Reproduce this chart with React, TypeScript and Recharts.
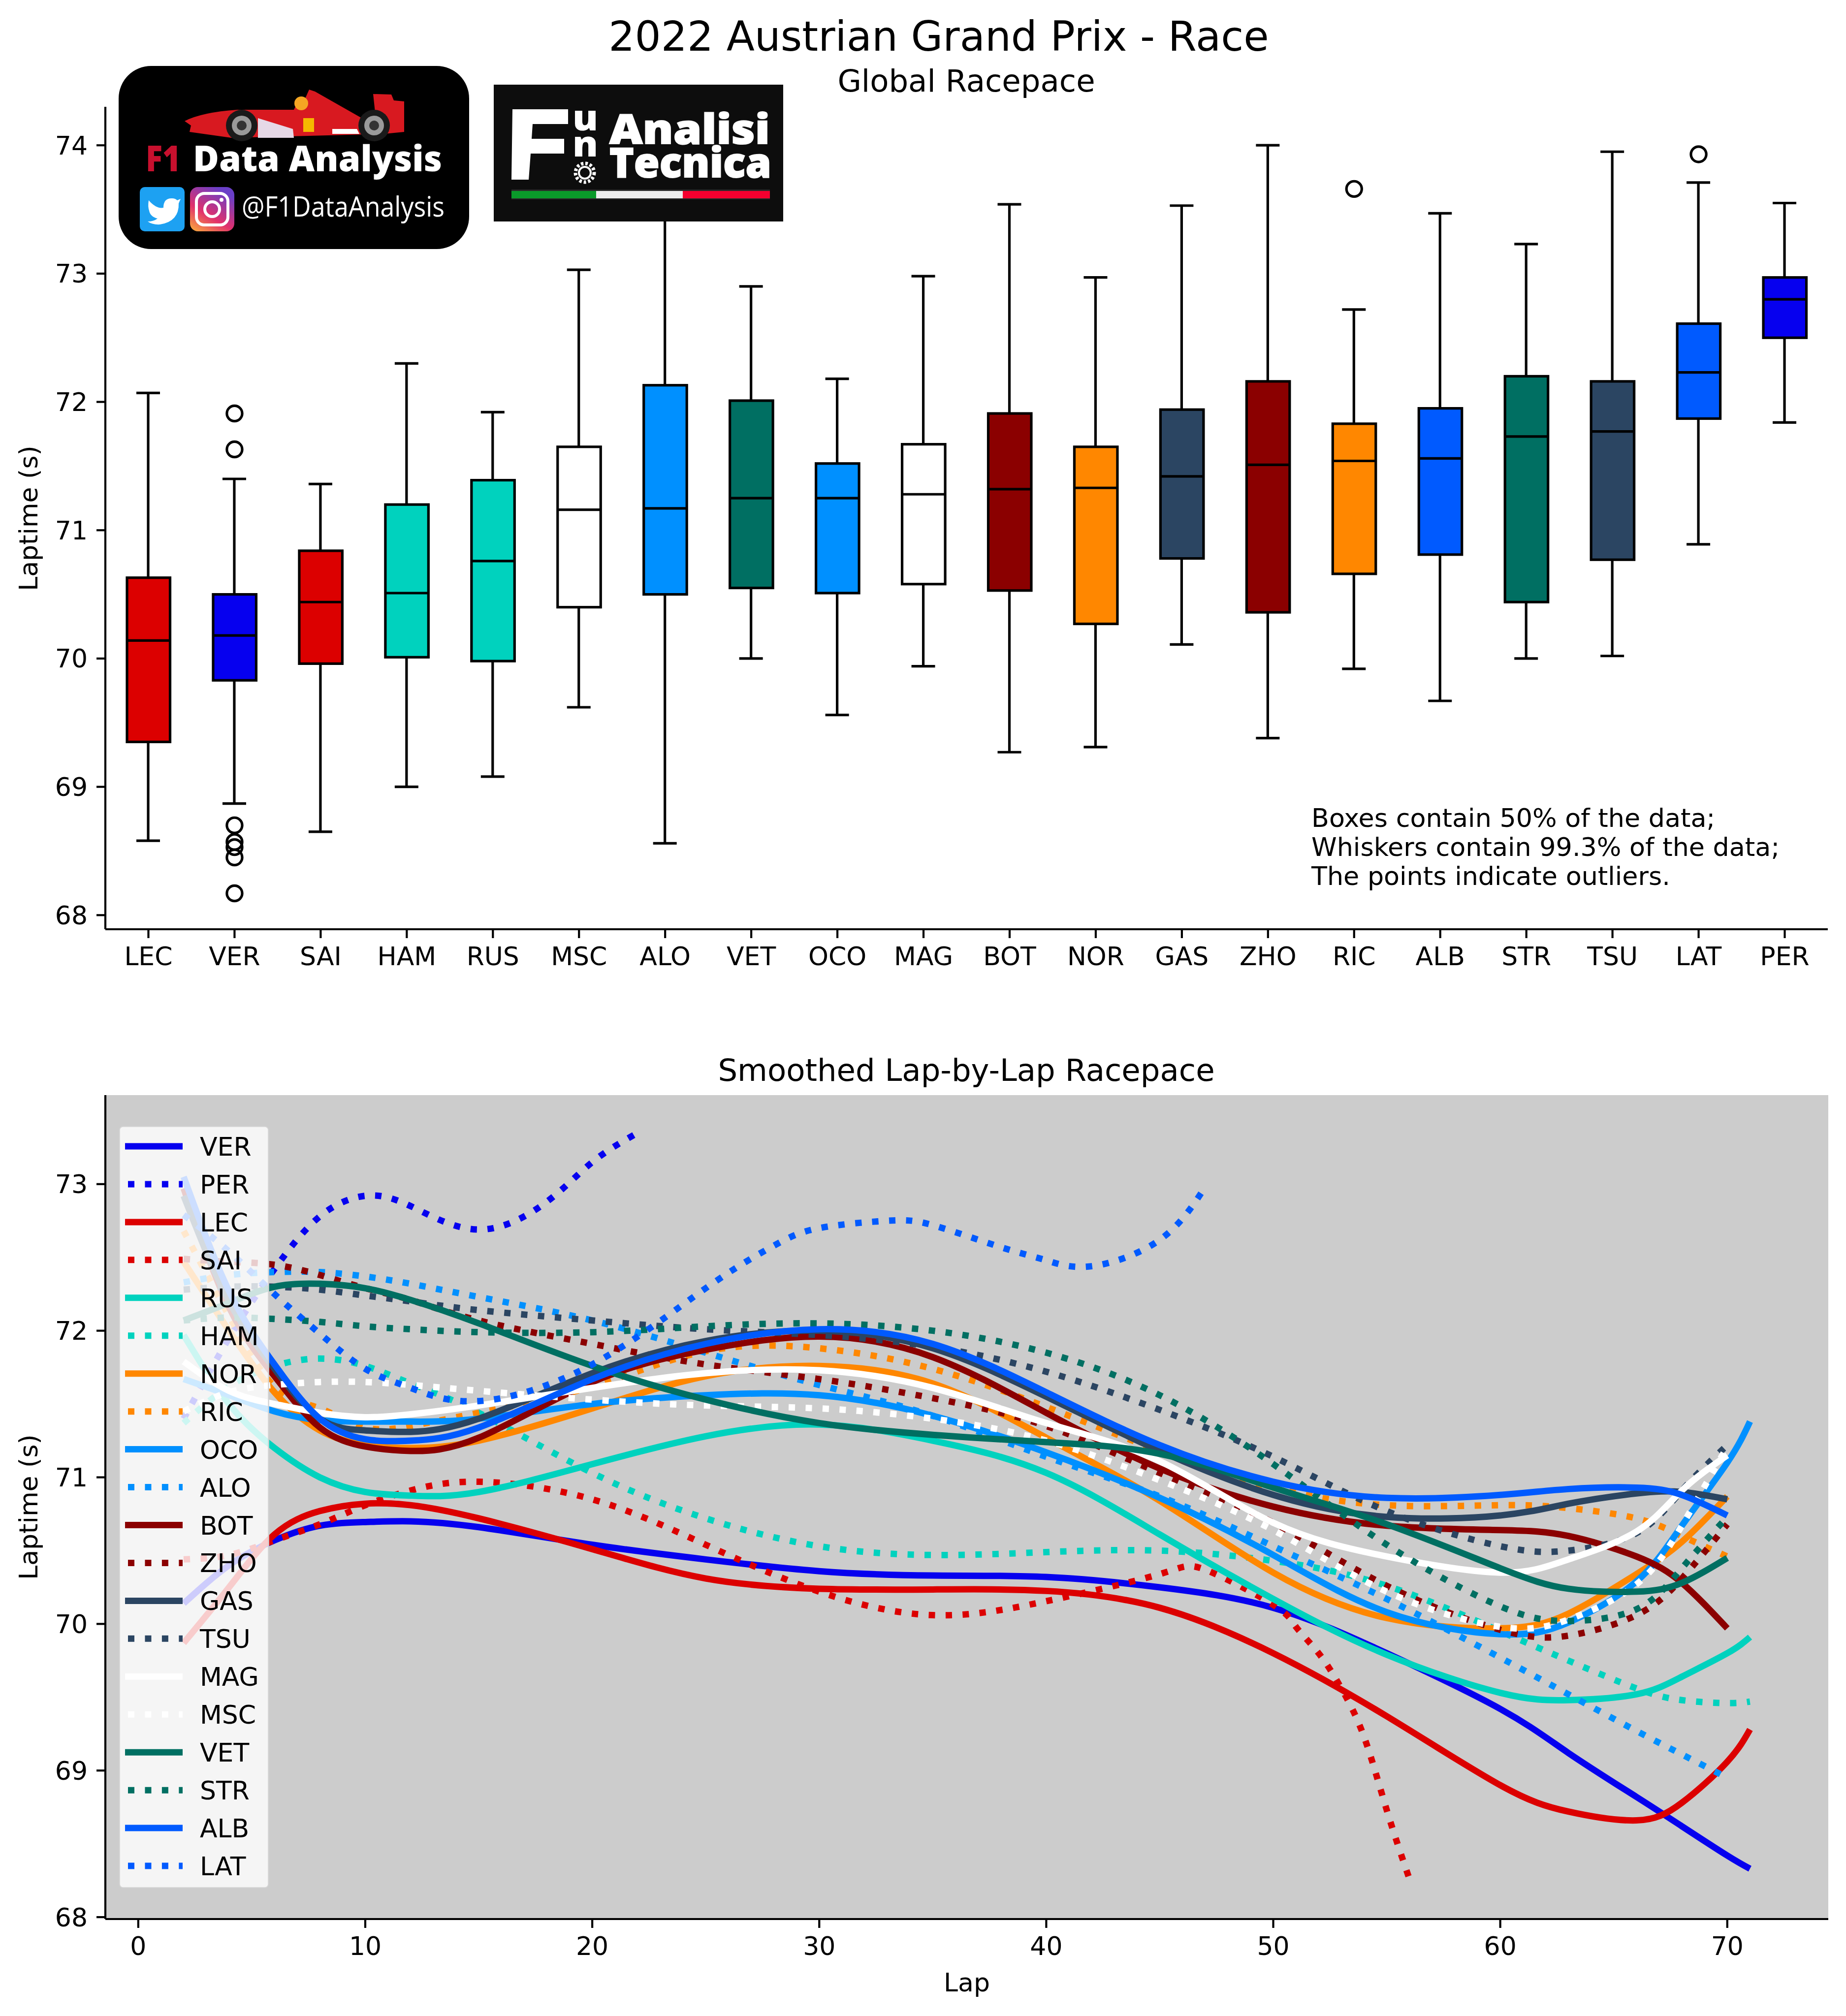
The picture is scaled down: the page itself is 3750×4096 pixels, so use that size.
import React from 'react';
import { ComposedChart, Bar, Line, XAxis, YAxis, CartesianGrid, Legend } from 'recharts';

const FONT = 'DejaVu Sans';

// ---------- upper panel: box plot ----------
const BOX_DRIVERS = ['LEC','VER','SAI','HAM','RUS','MSC','ALO','VET','OCO','MAG','BOT','NOR','GAS','ZHO','RIC','ALB','STR','TSU','LAT','PER'];
const BOX_COLORS = ['#dc0000','#0600ef','#dc0000','#00d2be','#00d2be','#ffffff','#0090ff','#006f62','#0090ff','#ffffff','#8b0000','#ff8700','#2b4562','#8b0000','#ff8700','#005aff','#006f62','#2b4562','#005aff','#0600ef'];
const WHISK_LOW = [68.58,68.87,68.65,69.00,69.08,69.62,68.56,70.00,69.56,69.94,69.27,69.31,70.11,69.38,69.92,69.67,70.00,70.02,70.89,71.84];
const Q1 = [69.35,69.83,69.96,70.01,69.98,70.40,70.50,70.55,70.51,70.58,70.53,70.27,70.78,70.36,70.66,70.81,70.44,70.77,71.87,72.50];
const MEDIAN = [70.14,70.18,70.44,70.51,70.76,71.16,71.17,71.25,71.25,71.28,71.32,71.33,71.42,71.51,71.54,71.56,71.73,71.77,72.23,72.80];
const Q3 = [70.63,70.50,70.84,71.20,71.39,71.65,72.13,72.01,71.52,71.67,71.91,71.65,71.94,72.16,71.83,71.95,72.20,72.16,72.61,72.97];
const WHISK_HIGH = [72.07,71.40,71.36,72.30,71.92,73.03,73.70,72.90,72.18,72.98,73.54,72.97,73.53,74.00,72.72,73.47,73.23,73.95,73.71,73.55];
const OUTLIERS: Record<string, number[]> = {
  VER: [71.91,71.63,68.70,68.57,68.53,68.45,68.17],
  RIC: [73.66],
  LAT: [73.93],
};
const OUTLIER_KEYS = [0,1,2,3,4,5,6];
const BOX_TICKS = [68,69,70,71,72,73,74];

const boxRows = BOX_DRIVERS.map((driver, i) => {
  const row: any = {
    driver,
    whisk: [WHISK_LOW[i], WHISK_HIGH[i]],
    box: [Q1[i], Q3[i]],
    median: MEDIAN[i],
  };
  OUTLIER_KEYS.forEach((k) => {
    const o = OUTLIERS[driver];
    row['o' + k] = o && o[k] !== undefined ? o[k] : null;
  });
  return row;
});

// ---------- lower panel: smoothed lap-by-lap lines ----------
const LAPS = [2,4,6,8,10,12,15,20,25,30,35,40,45,50,55,60,63,66,68,70,71];
const LAPS_PER = [2,4,6,8,10,12,15,18,20,22];
const LAPS_SAI = [2,4,6,8,10,12,15,20,25,30,35,40,45,47,50,51,52,53,54,55,56];
const LAPS_LAT = [2,4,6,8,10,12,15,20,25,28,30,33,35,38,40,42,45,47];

const VER = [70.14,70.40,70.57,70.67,70.695,70.70,70.66,70.54,70.44,70.36,70.33,70.32,70.25,70.11,69.80,69.42,69.12,68.82,68.62,68.42,68.33];
const PER = [71.40,71.95,72.42,72.78,72.92,72.85,72.69,72.88,73.15,73.35];
const LEC = [69.87,70.25,70.61,70.77,70.82,70.81,70.72,70.51,70.31,70.24,70.235,70.225,70.11,69.80,69.37,68.90,68.72,68.66,68.78,69.06,69.28];
const SAI = [70.44,70.47,70.57,70.68,70.81,70.91,70.97,70.85,70.54,70.22,70.06,70.155,70.34,70.37,70.13,69.98,69.80,69.56,69.23,68.73,68.26];
const RUS = [71.97,71.50,71.20,71.00,70.90,70.875,70.90,71.09,71.28,71.36,71.25,71.03,70.61,70.17,69.79,69.53,69.48,69.52,69.64,69.80,69.91];
const HAM = [71.37,71.62,71.76,71.81,71.76,71.64,71.44,71.03,70.72,70.53,70.47,70.49,70.50,70.43,70.26,69.95,69.75,69.56,69.48,69.46,69.47];
const NOR = [72.47,72.00,71.58,71.32,71.22,71.20,71.25,71.47,71.69,71.76,71.64,71.27,70.84,70.35,70.04,69.97,70.07,70.34,70.56,70.87];
const RIC = [72.68,72.10,71.62,71.47,71.34,71.35,71.44,71.62,71.86,71.88,71.74,71.48,71.18,70.93,70.81,70.81,70.79,70.72,70.60,70.46];
const OCO = [71.67,71.56,71.45,71.39,71.38,71.38,71.40,71.50,71.56,71.56,71.42,71.17,70.86,70.47,70.08,69.93,70.01,70.29,70.67,71.10,71.38];
const ALO = [72.33,72.38,72.40,72.40,72.37,72.32,72.23,72.07,71.85,71.63,71.42,71.14,70.87,70.53,70.17,69.77,69.52,69.27,69.11,68.95];
const BOT = [72.97,72.16,71.69,71.34,71.21,71.18,71.27,71.65,71.87,71.96,71.82,71.44,71.06,70.80,70.67,70.64,70.60,70.46,70.28,69.97];
const ZHO = [72.49,72.47,72.45,72.38,72.29,72.21,72.07,71.91,71.77,71.67,71.54,71.35,71.03,70.69,70.26,69.96,69.92,70.06,70.31,70.68];
const GAS = [72.92,72.20,71.74,71.40,71.32,71.31,71.40,71.71,71.93,72.00,71.88,71.55,71.18,70.88,70.73,70.74,70.82,70.89,70.90,70.85];
const TSU = [72.28,72.30,72.30,72.28,72.24,72.20,72.14,72.07,72.01,71.97,71.89,71.72,71.46,71.14,70.77,70.53,70.50,70.62,70.91,71.22];
const MAG = [71.79,71.59,71.50,71.44,71.41,71.43,71.49,71.61,71.71,71.73,71.61,71.37,71.11,70.69,70.46,70.35,70.44,70.63,70.91,71.15];
const MSC = [71.45,71.58,71.63,71.65,71.65,71.63,71.59,71.53,71.49,71.47,71.40,71.25,70.98,70.64,70.22,69.98,70.03,70.27,70.67,71.21];
const VET = [72.07,72.19,72.30,72.32,72.29,72.21,72.05,71.76,71.53,71.37,71.29,71.24,71.16,70.93,70.68,70.38,70.24,70.22,70.28,70.45];
const STR = [72.07,72.09,72.08,72.06,72.03,72.01,71.99,71.99,72.03,72.05,72.00,71.85,71.56,71.09,70.54,70.12,70.02,70.10,70.38,70.73];
const ALB = [73.05,72.27,71.77,71.40,71.26,71.25,71.34,71.67,71.91,72.01,71.91,71.58,71.22,70.97,70.86,70.88,70.92,70.93,70.88,70.74];
const LAT = [72.79,72.54,72.25,71.98,71.74,71.61,71.52,71.77,72.29,72.58,72.70,72.75,72.72,72.57,72.48,72.44,72.62,72.98];

const SERIES: { name: string; color: string; dotted: boolean; laps: number[]; values: number[] }[] = [
  { name: 'VER', color: '#0600ef', dotted: false, laps: LAPS, values: VER },
  { name: 'PER', color: '#0600ef', dotted: true, laps: LAPS_PER, values: PER },
  { name: 'LEC', color: '#dc0000', dotted: false, laps: LAPS, values: LEC },
  { name: 'SAI', color: '#dc0000', dotted: true, laps: LAPS_SAI, values: SAI },
  { name: 'RUS', color: '#00d2be', dotted: false, laps: LAPS, values: RUS },
  { name: 'HAM', color: '#00d2be', dotted: true, laps: LAPS, values: HAM },
  { name: 'NOR', color: '#ff8700', dotted: false, laps: LAPS, values: NOR },
  { name: 'RIC', color: '#ff8700', dotted: true, laps: LAPS, values: RIC },
  { name: 'OCO', color: '#0090ff', dotted: false, laps: LAPS, values: OCO },
  { name: 'ALO', color: '#0090ff', dotted: true, laps: LAPS, values: ALO },
  { name: 'BOT', color: '#8b0000', dotted: false, laps: LAPS, values: BOT },
  { name: 'ZHO', color: '#8b0000', dotted: true, laps: LAPS, values: ZHO },
  { name: 'GAS', color: '#2b4562', dotted: false, laps: LAPS, values: GAS },
  { name: 'TSU', color: '#2b4562', dotted: true, laps: LAPS, values: TSU },
  { name: 'MAG', color: '#ffffff', dotted: false, laps: LAPS, values: MAG },
  { name: 'MSC', color: '#ffffff', dotted: true, laps: LAPS, values: MSC },
  { name: 'VET', color: '#006f62', dotted: false, laps: LAPS, values: VET },
  { name: 'STR', color: '#006f62', dotted: true, laps: LAPS, values: STR },
  { name: 'ALB', color: '#005aff', dotted: false, laps: LAPS, values: ALB },
  { name: 'LAT', color: '#005aff', dotted: true, laps: LAPS_LAT, values: LAT },
];
const LAP_TICKS = [0,10,20,30,40,50,60,70];
const LINE_TICKS = [68,69,70,71,72,73];

const EDGE = 5.2;
const SPINE = 4.2;
const axisLine = { stroke: '#000', strokeWidth: SPINE };
const tickLine = { stroke: '#000', strokeWidth: SPINE };
const tickStyle = { fontSize: 52, fill: '#000', fontFamily: FONT };
const DOT_DASH = '13 21.45';

function WhiskerShape(p: any) {
  const { x, y, width, height } = p;
  const cx = x + width / 2;
  return (
    <g stroke="#000" strokeWidth={EDGE} fill="none">
      <line x1={cx} x2={cx} y1={y} y2={y + height} />
      <line x1={x} x2={x + width} y1={y} y2={y} />
      <line x1={x} x2={x + width} y1={y + height} y2={y + height} />
    </g>
  );
}
function BoxShape(p: any) {
  const { x, y, width, height, index } = p;
  return <rect x={x} y={y} width={width} height={height} fill={BOX_COLORS[index]} stroke="#000" strokeWidth={EDGE} />;
}
function MedianDot(p: any) {
  const { cx, cy, index } = p;
  return <line key={index} x1={cx - 43.75} x2={cx + 43.75} y1={cy} y2={cy} stroke="#000" strokeWidth={EDGE} />;
}
function FlierDot(p: any) {
  const { cx, cy, index, value } = p;
  if (value === null || value === undefined || cy === null || cy === undefined) return <g key={index} />;
  return <circle key={index} cx={cx} cy={cy} r={15.6} fill="none" stroke="#000" strokeWidth={EDGE} />;
}

function LegendBox(props: any) {
  const items = props.payload || [];
  return (
    <svg width={306} height={1550} style={{ display: 'block' }}>
      <rect x={1} y={1} width={304} height={1548} rx={8} fill="rgba(255,255,255,0.8)" stroke="rgba(204,204,204,0.8)" strokeWidth={3.5} />
      {items.map((it: any, i: number) => {
        const s = SERIES.find((d) => d.name === it.value);
        const y = 42 + i * 76.95;
        return (
          <g key={it.value}>
            <line x1={13} x2={130} y1={y} y2={y} stroke={it.color} strokeWidth={13}
              strokeDasharray={s && s.dotted ? DOT_DASH : undefined} strokeDashoffset={s && s.dotted ? -6 : 0} />
            <text x={165} y={y + 19} fontSize={52} fontFamily={FONT} fill="#000">{it.value}</text>
          </g>
        );
      })}
    </svg>
  );
}

function Logos() {
  return (
    <g>
      {/* first badge */}
      <rect x={235} y={129} width={724} height={382} rx={70} fill="#fff" />
      <rect x={241} y={134} width={712} height={372} rx={66} fill="#000" />
      <path d="M375 246 Q410 228 482 223 L597 223 Q605 205 620 200 L628 182 L640 186 L735 240 L762 228 L758 191 L795 192 L800 204 L821 206 L821 268 L780 272 L470 280 L385 268 L388 255 Z" fill="#d81920" />
      <path d="M524 240 L595 262 L597 280 L524 280 Z" fill="#e6d8e6" />
      <path d="M675 262 L725 262 L730 272 L675 272 Z" fill="#fff" />
      <rect x={616} y={240} width={22} height={28} fill="#f5b800" />
      <circle cx={612} cy={210} r={14} fill="#f5a623" />
      <circle cx={491} cy={255} r={32} fill="#1a1a1a" />
      <circle cx={491} cy={255} r={20} fill="#9a9a9a" />
      <circle cx={491} cy={255} r={10} fill="#333" />
      <circle cx={760} cy={255} r={32} fill="#1a1a1a" />
      <circle cx={760} cy={255} r={20} fill="#9a9a9a" />
      <circle cx={760} cy={255} r={10} fill="#333" />
      <text x={296} y={348} fontFamily="Open Sans" fontWeight={800} fontSize={72} fill="#c8102e" textLength={71} lengthAdjust="spacingAndGlyphs">F1</text>
      <text x={392} y={348} fontFamily="Open Sans" fontWeight={800} fontSize={72} fill="#fff" textLength={506} lengthAdjust="spacingAndGlyphs">Data Analysis</text>
      <rect x={284} y={380} width={91} height={90} rx={10} fill="#1da1f2" />
      <path d="M302 407 Q318 425 332 422 Q332 402 350 403 Q356 403 360 407 L367 404 L363 413 Q364 450 325 456 Q310 457 300 450 Q312 450 320 444 Q305 440 303 428 Q300 420 302 407 Z" fill="#fff" />
      <defs>
        <linearGradient id="ig" x1="0" y1="1" x2="0.6" y2="0">
          <stop offset="0" stopColor="#fbb03b" />
          <stop offset="0.45" stopColor="#e1306c" />
          <stop offset="1" stopColor="#6a3fc8" />
        </linearGradient>
      </defs>
      <rect x={386} y={380} width={90} height={90} rx={16} fill="url(#ig)" />
      <rect x={399} y={393} width={64} height={64} rx={16} fill="none" stroke="#fff" strokeWidth={6} />
      <circle cx={431} cy={425} r={15} fill="none" stroke="#fff" strokeWidth={6} />
      <circle cx={450} cy={406} r={4} fill="#fff" />
      <text x={491} y={440} fontFamily="Open Sans" fontSize={56} fill="#fff" textLength={412} lengthAdjust="spacingAndGlyphs">@F1DataAnalysis</text>

      {/* second badge */}
      <rect x={1003} y={172} width={588} height={278} fill="#0d0d0d" />
      <path d="M1041 222 L1154 222 L1154 252 L1082 252 L1080 282 L1146 282 L1146 312 L1078 312 L1074 365 L1039 365 Z" fill="#fff" />
      <text x={1163} y={265} fontFamily="Open Sans" fontWeight={800} fontSize={72} fill="#fff" textLength={52} lengthAdjust="spacingAndGlyphs">u</text>
      <text x={1163} y={318} fontFamily="Open Sans" fontWeight={800} fontSize={72} fill="#fff" textLength={52} lengthAdjust="spacingAndGlyphs">n</text>
      <circle cx={1188} cy={351} r={19} fill="none" stroke="#fff" strokeWidth={7} strokeDasharray="5 4" />
      <circle cx={1188} cy={351} r={12} fill="none" stroke="#fff" strokeWidth={4} />
      <text x={1238} y={292} fontFamily="Open Sans" fontWeight={800} fontSize={84} fill="#fff" stroke="#fff" strokeWidth={2} textLength={326} lengthAdjust="spacingAndGlyphs">Analisi</text>
      <text x={1238} y={360} fontFamily="Open Sans" fontWeight={800} fontSize={84} fill="#fff" stroke="#fff" strokeWidth={2} textLength={329} lengthAdjust="spacingAndGlyphs">Tecnica</text>
      <rect x={1039} y={385} width={525} height={20} fill="#2a2a2a" />
      <rect x={1039} y={388} width={172} height={15} fill="#0a9a2a" />
      <rect x={1211} y={388} width={176} height={15} fill="#ececec" />
      <rect x={1387} y={388} width={177} height={15} fill="#f5002f" />
    </g>
  );
}

export default function App() {
  return (
    <div style={{ position: 'absolute', left: 0, top: 0, width: 3750, height: 4096, background: '#fff', overflow: 'hidden' }}>
      <div style={{ position: 'absolute', left: -1, top: 0 }}>
        <ComposedChart width={3750} height={2000} data={boxRows} margin={{ top: 217, right: 36, left: 0, bottom: 82 }} barGap={0}>
          <XAxis dataKey="driver" type="category" interval={0} tick={tickStyle} tickSize={18} tickMargin={18} axisLine={axisLine} tickLine={tickLine} />
          <XAxis xAxisId="w" dataKey="driver" type="category" hide />
          <XAxis xAxisId="b" dataKey="driver" type="category" hide />
          <YAxis width={215} type="number" domain={[67.89, 74.3]} ticks={BOX_TICKS} allowDataOverflow tick={tickStyle} tickSize={18} tickMargin={18} axisLine={axisLine} tickLine={tickLine} />
          <Bar xAxisId="w" dataKey="whisk" barSize={48} shape={WhiskerShape} isAnimationActive={false} />
          <Bar xAxisId="b" dataKey="box" barSize={87.5} shape={BoxShape} isAnimationActive={false} />
          <Line dataKey="median" stroke="none" dot={MedianDot} activeDot={false} isAnimationActive={false} />
          {OUTLIER_KEYS.map((k) => (
            <Line key={k} dataKey={'o' + k} stroke="none" dot={FlierDot} activeDot={false} isAnimationActive={false} />
          ))}
        </ComposedChart>
      </div>

      <div style={{ position: 'absolute', left: 0, top: 2000 }}>
        <ComposedChart width={3750} height={2096} margin={{ top: 225, right: 36, left: 0, bottom: 167 }}>
          <CartesianGrid horizontal={false} vertical={false} fill="#cccccc" />
          <XAxis dataKey="lap" type="number" domain={[-1.45, 74.45]} ticks={LAP_TICKS} allowDataOverflow tick={tickStyle} tickSize={18} tickMargin={18} axisLine={axisLine} tickLine={tickLine} />
          <YAxis width={214} type="number" domain={[67.987, 73.607]} ticks={LINE_TICKS} allowDataOverflow tick={tickStyle} tickSize={18} tickMargin={18} axisLine={axisLine} tickLine={tickLine} />
          {SERIES.map((s) => (
            <Line
              key={s.name}
              name={s.name}
              type="natural"
              data={s.laps.map((lap, i) => ({ lap, value: s.values[i] }))}
              dataKey="value"
              stroke={s.color}
              strokeWidth={13}
              strokeDasharray={s.dotted ? DOT_DASH : undefined}
              dot={false}
              activeDot={false}
              isAnimationActive={false}
            />
          ))}
          <Legend
            layout="vertical"
            align="center"
            verticalAlign="middle"
            itemSorter={null as any}
            wrapperStyle={{ left: 241, top: 287, width: 306, height: 1550, right: 'auto', bottom: 'auto', margin: 0 }}
            content={LegendBox as any}
          />
        </ComposedChart>
      </div>

      <svg width={3750} height={4096} style={{ position: 'absolute', left: 0, top: 0, pointerEvents: 'none' }}>
        <text x={1907} y={103} textAnchor="middle" fontFamily={FONT} fontSize={83.6} fill="#000">2022 Austrian Grand Prix - Race</text>
        <text x={1963} y={186} textAnchor="middle" fontFamily={FONT} fontSize={62.5} fill="#000">Global Racepace</text>
        <text x={1963} y={2196} textAnchor="middle" fontFamily={FONT} fontSize={62.5} fill="#000">Smoothed Lap-by-Lap Racepace</text>
        <text x={1964} y={4046} textAnchor="middle" fontFamily={FONT} fontSize={52} fill="#000">Lap</text>
        <text transform="translate(76,1053) rotate(-90)" textAnchor="middle" fontFamily={FONT} fontSize={52} fill="#000">Laptime (s)</text>
        <text transform="translate(76,3062) rotate(-90)" textAnchor="middle" fontFamily={FONT} fontSize={52} fill="#000">Laptime (s)</text>
        <text x={2664} y={1680} fontFamily={FONT} fontSize={52.3} fill="#000">Boxes contain 50% of the data;</text>
        <text x={2664} y={1739} fontFamily={FONT} fontSize={52.3} fill="#000">Whiskers contain 99.3% of the data;</text>
        <text x={2664} y={1798} fontFamily={FONT} fontSize={52.3} fill="#000">The points indicate outliers.</text>
        <Logos />
      </svg>
    </div>
  );
}
